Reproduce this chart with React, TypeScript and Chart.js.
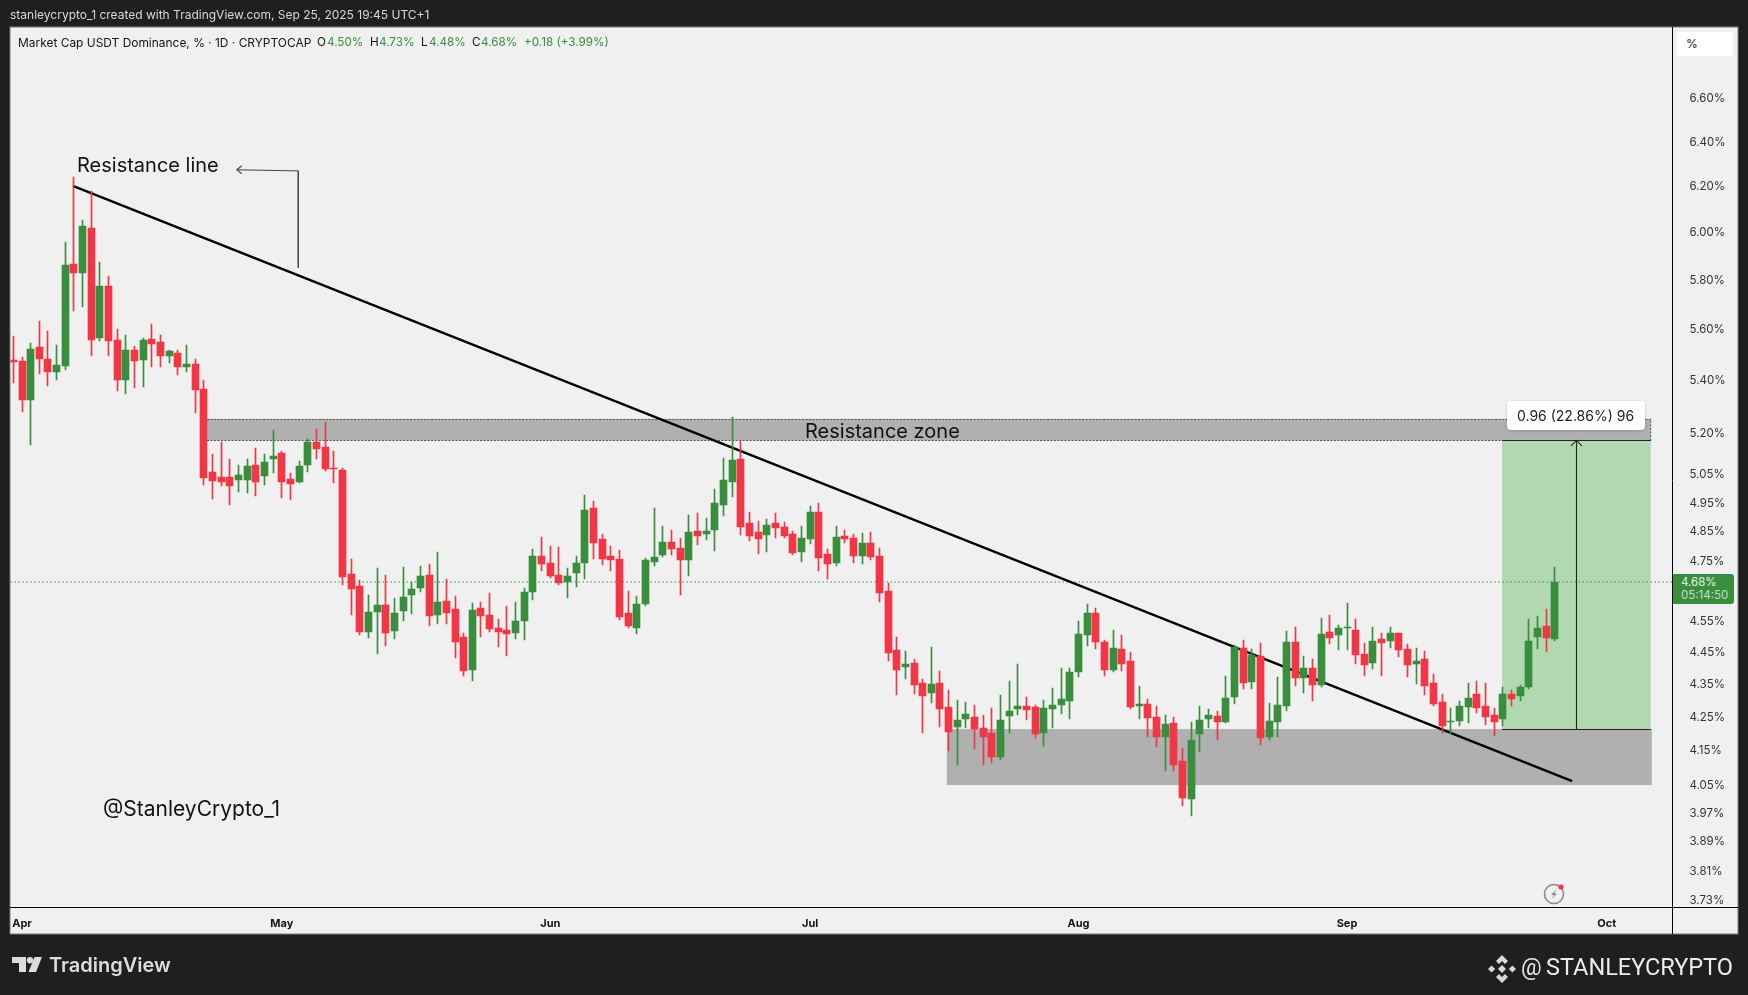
import React, { useEffect, useRef } from "react";
import { Chart, registerables } from "chart.js";

Chart.register(...registerables);

const opens = [
  5.481,5.477,5.327,5.532,5.485,5.434,5.457,5.869,5.832,6.021,
  5.568,5.778,5.560,5.404,5.520,5.481,5.564,5.552,5.497,5.508,
  5.454,5.465,5.369,5.061,5.043,5.043,5.032,5.032,5.086,5.047,
  5.108,5.130,5.036,5.025,5.086,5.170,5.152,5.076,5.068,4.707,
  4.667,4.517,4.581,4.604,4.520,4.584,4.637,4.660,4.704,4.571,
  4.617,4.591,4.501,4.396,4.594,4.571,4.529,4.523,4.513,4.552,
  4.647,4.768,4.744,4.704,4.680,4.710,4.744,4.933,4.825,4.768,
  4.757,4.578,4.529,4.607,4.747,4.771,4.815,4.795,4.754,4.853,
  4.842,4.856,4.944,5.025,5.108,4.881,4.849,4.839,4.881,4.867,
  4.842,4.781,4.825,4.919,4.774,4.744,4.836,4.829,4.768,4.812,
  4.768,4.650,4.459,4.405,4.418,4.356,4.325,4.356,4.282,4.221,
  4.246,4.252,4.218,4.203,4.132,4.255,4.276,4.285,4.282,4.203,
  4.276,4.288,4.300,4.390,4.507,4.578,4.485,4.396,4.462,4.424,
  4.285,4.291,4.252,4.191,4.233,4.120,4.010,4.200,4.246,4.255,
  4.236,4.312,4.465,4.359,4.440,4.191,4.236,4.285,4.485,4.371,
  4.402,4.349,4.517,4.507,4.529,4.523,4.446,4.418,4.494,4.488,
  4.513,4.462,4.415,4.431,4.356,4.297,4.236,4.239,4.282,4.322,
  4.285,4.258,4.246,4.322,4.316,4.343,4.501,4.536,4.494,
];
const highs = [
  5.576,5.493,5.548,5.636,5.596,5.540,5.962,6.244,6.056,6.182,
  5.877,5.819,5.604,5.580,5.536,5.568,5.624,5.580,5.520,5.520,
  5.540,5.485,5.404,5.126,5.170,5.108,5.086,5.108,5.148,5.126,
  5.215,5.137,5.057,5.101,5.181,5.218,5.244,5.137,5.076,4.757,
  4.687,4.637,4.727,4.704,4.627,4.730,4.680,4.734,4.740,4.781,
  4.690,4.633,4.513,4.610,4.614,4.643,4.558,4.601,4.614,4.660,
  4.791,4.832,4.801,4.798,4.727,4.768,4.979,4.958,4.842,4.801,
  4.788,4.650,4.633,4.761,4.933,4.870,4.856,4.829,4.909,4.916,
  4.898,5.000,5.111,5.263,5.174,4.919,4.888,4.895,4.916,4.884,
  4.853,4.870,4.940,4.951,4.791,4.870,4.856,4.842,4.846,4.849,
  4.795,4.677,4.501,4.456,4.431,4.368,4.469,4.393,4.334,4.303,
  4.297,4.288,4.258,4.279,4.319,4.362,4.415,4.312,4.288,4.303,
  4.340,4.402,4.402,4.552,4.607,4.594,4.491,4.523,4.507,4.453,
  4.346,4.306,4.285,4.258,4.252,4.158,4.236,4.285,4.276,4.270,
  4.377,4.475,4.491,4.462,4.481,4.294,4.374,4.520,4.533,4.440,
  4.431,4.562,4.571,4.539,4.610,4.558,4.481,4.533,4.513,4.533,
  4.513,4.478,4.465,4.456,4.384,4.322,4.279,4.300,4.356,4.362,
  4.356,4.279,4.343,4.334,4.349,4.558,4.568,4.591,4.730,
];
const lows = [
  5.392,5.282,5.159,5.427,5.381,5.404,5.442,5.676,5.692,5.497,
  5.556,5.497,5.361,5.350,5.373,5.377,5.454,5.454,5.469,5.423,
  5.434,5.278,5.014,4.965,5.011,4.944,4.989,4.986,4.975,5.014,
  5.057,4.968,4.961,5.022,5.061,5.108,5.065,5.022,4.670,4.571,
  4.507,4.497,4.446,4.472,4.494,4.552,4.575,4.647,4.536,4.542,
  4.542,4.434,4.377,4.362,4.501,4.517,4.469,4.440,4.494,4.491,
  4.620,4.717,4.693,4.670,4.627,4.663,4.690,4.757,4.737,4.717,
  4.555,4.529,4.510,4.601,4.734,4.764,4.771,4.637,4.700,4.805,
  4.822,4.785,4.905,4.972,4.839,4.818,4.774,4.781,4.829,4.829,
  4.771,4.747,4.808,4.717,4.690,4.734,4.812,4.744,4.740,4.754,
  4.614,4.424,4.319,4.368,4.322,4.203,4.294,4.221,4.150,4.108,
  4.218,4.155,4.108,4.114,4.123,4.203,4.258,4.242,4.188,4.164,
  4.218,4.261,4.246,4.374,4.472,4.462,4.377,4.390,4.393,4.276,
  4.246,4.191,4.161,4.091,4.091,3.991,3.962,4.147,4.218,4.182,
  4.233,4.291,4.337,4.337,4.167,4.182,4.191,4.270,4.346,4.325,
  4.300,4.343,4.478,4.459,4.459,4.415,4.377,4.399,4.377,4.465,
  4.437,4.374,4.352,4.319,4.285,4.203,4.200,4.224,4.233,4.264,
  4.227,4.194,4.224,4.285,4.300,4.337,4.462,4.453,4.488,
];
const closes = [
  5.473,5.327,5.524,5.485,5.434,5.461,5.865,5.832,6.030,5.560,
  5.778,5.556,5.404,5.520,5.477,5.560,5.544,5.497,5.516,5.454,
  5.465,5.365,5.039,5.029,5.025,5.011,5.050,5.083,5.025,5.097,
  5.119,5.025,5.018,5.083,5.170,5.145,5.072,5.072,4.697,4.657,
  4.517,4.581,4.604,4.513,4.578,4.630,4.657,4.700,4.568,4.614,
  4.578,4.485,4.393,4.588,4.568,4.526,4.517,4.510,4.552,4.647,
  4.768,4.740,4.700,4.677,4.700,4.744,4.926,4.812,4.757,4.754,
  4.565,4.536,4.607,4.754,4.764,4.815,4.791,4.754,4.849,4.836,
  4.853,4.951,5.032,5.105,4.867,4.836,4.825,4.874,4.863,4.836,
  4.778,4.829,4.919,4.761,4.740,4.832,4.825,4.768,4.812,4.764,
  4.643,4.450,4.396,4.415,4.349,4.316,4.352,4.276,4.206,4.242,
  4.261,4.215,4.191,4.132,4.242,4.270,4.285,4.273,4.200,4.279,
  4.288,4.306,4.390,4.510,4.578,4.485,4.396,4.465,4.415,4.282,
  4.291,4.249,4.191,4.230,4.108,4.013,4.182,4.242,4.258,4.236,
  4.309,4.469,4.356,4.443,4.188,4.239,4.288,4.485,4.371,4.402,
  4.349,4.510,4.497,4.529,4.533,4.443,4.412,4.488,4.481,4.513,
  4.459,4.412,4.424,4.346,4.291,4.224,4.239,4.285,4.309,4.279,
  4.252,4.236,4.322,4.306,4.343,4.488,4.529,4.497,4.680,
];

const monthIndex = [1, 31, 62, 92, 123, 154, 184];
const monthLabels = ["Apr", "May", "Jun", "Jul", "Aug", "Sep", "Oct"];
const priceTicks = [6.6, 6.4, 6.2, 6.0, 5.8, 5.6, 5.4, 5.2, 5.05, 4.95, 4.85, 4.75, 4.55, 4.45, 4.35, 4.25, 4.15, 4.05, 3.97, 3.89, 3.81, 3.73];

const xRange = [-0.33, 191.586];
const yRange = [3.7138, 6.946];
const trendX = [6.87, 180.0];
const trendY = [6.204, 4.062];
const resistanceZoneX = [22.37, 189.07];
const resistanceZoneY = [5.176, 5.256];
const supportZoneX = [107.8, 189.2];
const supportZoneY = [4.0505, 4.215];
const measureX = [171.9, 189.07];
const measureY = [4.215, 5.176];
const measureArrowX = 180.5;
const noteArrowX = [25.8, 32.9, 32.9];
const noteArrowY = [6.275, 6.27, 5.853];
const lastPrice = 4.68;

const UP = "#388e3c";
const DOWN = "#f23645";
const FONT = "Inter, 'Liberation Sans', sans-serif";

const overlayPlugin = {
  id: "overlay",
  beforeDraw(chart: any) {
    const c = chart.ctx;
    c.save();
    c.fillStyle = "#1f1f1f";
    c.fillRect(0, 0, chart.width, chart.height);
    c.fillStyle = "#f0f0f0";
    c.fillRect(10, 27, 1728, 907);
    c.strokeStyle = "#7a7a7a";
    c.lineWidth = 1;
    c.strokeRect(10, 27, 1728, 907);
    c.restore();
  },
  beforeDatasetsDraw(chart: any) {
    // the candles sit on whole device pixels, as they do on the original chart
    [0, 1].forEach((d) => {
      chart.getDatasetMeta(d).data.forEach((el: any) => {
        el.x = Math.floor(el.x) + 0.5;
        const top = Math.round(Math.min(el.y, el.base));
        const bottom = Math.max(Math.round(Math.max(el.y, el.base)), top + 1);
        el.y = top;
        el.base = bottom;
      });
    });
    const c = chart.ctx;
    const { x, y } = chart.scales;
    c.save();
    const rect = (xs: number[], ys: number[], col: string) => {
      c.fillStyle = col;
      c.fillRect(x.getPixelForValue(xs[0]), y.getPixelForValue(ys[1]), x.getPixelForValue(xs[1]) - x.getPixelForValue(xs[0]), y.getPixelForValue(ys[0]) - y.getPixelForValue(ys[1]));
    };
    rect(resistanceZoneX, resistanceZoneY, "#b0b0b0");
    rect(supportZoneX, supportZoneY, "#b0b0b0");
    rect(measureX, measureY, "#b2d8b2");
    c.strokeStyle = "#555";
    c.lineWidth = 1;
    c.setLineDash([2, 1.5]);
    const hl = (xs: number[], v: number) => {
      const py = Math.round(y.getPixelForValue(v)) + 0.5;
      c.beginPath();
      c.moveTo(x.getPixelForValue(xs[0]), py);
      c.lineTo(x.getPixelForValue(xs[1]), py);
      c.stroke();
    };
    hl(resistanceZoneX, resistanceZoneY[0]);
    hl(resistanceZoneX, resistanceZoneY[1]);
    const vx = x.getPixelForValue(resistanceZoneX[1]);
    c.beginPath();
    c.moveTo(vx, y.getPixelForValue(resistanceZoneY[0]));
    c.lineTo(vx, y.getPixelForValue(resistanceZoneY[1]));
    c.stroke();
    c.setLineDash([]);
    c.strokeStyle = "#222";
    hl(measureX, measureY[0]);
    hl(measureX, measureY[1]);
    c.restore();
  },
  afterDatasetsDraw(chart: any) {
    const c = chart.ctx;
    const { x, y } = chart.scales;
    c.save();
    c.strokeStyle = "#222";
    c.lineWidth = 1.1;
    const ax = x.getPixelForValue(measureArrowX);
    const ay = y.getPixelForValue(measureY[1]);
    c.beginPath();
    c.moveTo(ax - 5.5, ay + 5.5);
    c.lineTo(ax, ay);
    c.lineTo(ax + 5.5, ay + 5.5);
    c.stroke();
    c.strokeStyle = "#444";
    const nx = x.getPixelForValue(noteArrowX[0]);
    const ny = y.getPixelForValue(noteArrowY[0]);
    c.beginPath();
    c.moveTo(nx + 5, ny - 4);
    c.lineTo(nx, ny);
    c.lineTo(nx + 5, ny + 4);
    c.stroke();
    // axis rules
    c.strokeStyle = "#000";
    c.lineWidth = 1;
    c.beginPath();
    c.moveTo(10, 907.5);
    c.lineTo(1738, 907.5);
    c.moveTo(1672.5, 27);
    c.lineTo(1672.5, 934);
    c.stroke();
    c.restore();
  },
};

const txt = (s: React.CSSProperties): React.CSSProperties => ({ position: "absolute", whiteSpace: "nowrap", fontFamily: FONT, lineHeight: 1, ...s });

export default function App() {
  const ref = useRef<HTMLCanvasElement>(null);
  useEffect(() => {
    const idx = opens.map((_, i) => i);
    const colors = idx.map((i) => (closes[i] >= opens[i] ? UP : DOWN));
    const chart = new Chart(ref.current as HTMLCanvasElement, {
      type: "bar",
      data: {
        datasets: [
          {
            label: "Body",
            data: idx.map((i) => ({ x: i, y: [opens[i], closes[i]] })),
            backgroundColor: colors,
            barThickness: 7,
            grouped: false,
            order: 1,
          },
          {
            label: "Wick",
            data: idx.map((i) => ({ x: i, y: [lows[i], highs[i]] })),
            backgroundColor: colors,
            barThickness: 1,
            grouped: false,
            order: 2,
          },
          {
            type: "line",
            label: "Resistance line",
            data: trendX.map((v, i) => ({ x: v, y: trendY[i] })),
            borderColor: "#000",
            borderWidth: 2.4,
            pointRadius: 0,
            order: 3,
          },
          {
            type: "line",
            label: "Last price",
            data: xRange.map((v) => ({ x: v, y: lastPrice })),
            borderColor: UP,
            borderWidth: 1,
            borderDash: [1.5, 2.5],
            pointRadius: 0,
            order: 4,
          },
          {
            type: "line",
            label: "Range",
            data: measureY.map((v) => ({ x: measureArrowX, y: v })),
            borderColor: "#222",
            borderWidth: 1.1,
            pointRadius: 0,
            order: 5,
          },
          {
            type: "line",
            label: "Note",
            data: noteArrowX.map((v, i) => ({ x: v, y: noteArrowY[i] })),
            borderColor: "#444",
            borderWidth: 1,
            pointRadius: 0,
            order: 6,
          },
        ] as any,
      },
      options: {
        animation: false,
        responsive: false,
        devicePixelRatio: 1,
        layout: { padding: { left: 10.5, top: 27, right: 10, bottom: 61 } },
        plugins: { legend: { display: false }, tooltip: { enabled: false } },
        scales: {
          x: {
            type: "linear",
            offset: false,
            min: xRange[0],
            max: xRange[1],
            grid: { display: false, offset: false },
            border: { display: false },
            afterFit: (s: any) => { s.height = 27; },
            afterBuildTicks: (s: any) => { s.ticks = monthIndex.map((value) => ({ value })); },
            ticks: {
              autoSkip: false,
              maxRotation: 0,
              padding: 2,
              color: "#131313",
              font: { family: FONT, size: 11, weight: "bold" },
              callback: (v: any) => monthLabels[monthIndex.indexOf(v)],
            },
          },
          y: {
            type: "logarithmic",
            position: "right",
            min: yRange[0],
            max: yRange[1],
            grid: { display: false },
            border: { display: false },
            afterFit: (s: any) => { s.width = 65.5; },
            afterBuildTicks: (s: any) => { s.ticks = priceTicks.map((value) => ({ value })); },
            ticks: {
              autoSkip: false,
              padding: 9,
              color: "#333",
              font: { family: FONT, size: 11.5 },
              callback: (v: any) => Number(v).toFixed(2) + "%",
            },
          },
        },
      } as any,
      plugins: [overlayPlugin],
    });
    return () => chart.destroy();
  }, []);

  const green = { color: UP };
  const legend = { fontSize: 11.7, top: 37, color: "#131313" };
  return (
    <div style={{ position: "absolute", left: 0, top: 0, width: 1748, height: 995, overflow: "hidden", background: "#1f1f1f" }}>
      <canvas ref={ref} width={1748} height={995} style={{ display: "block", width: 1748, height: 995 }} />
      <div style={txt({ left: 10, top: 9, fontSize: 12, color: "#d9d9d9" })}>stanleycrypto_1 created with TradingView.com, Sep 25, 2025 19:45 UTC+1</div>

      <div style={txt({ ...legend, fontSize: 11.95, left: 18 })}>Market Cap USDT Dominance, % · 1D · CRYPTOCAP</div>
      <div style={txt({ ...legend, left: 317 })}>O</div>
      <div style={txt({ ...legend, ...green, left: 327 })}>4.50%</div>
      <div style={txt({ ...legend, left: 370 })}>H</div>
      <div style={txt({ ...legend, ...green, left: 379 })}>4.73%</div>
      <div style={txt({ ...legend, left: 421 })}>L</div>
      <div style={txt({ ...legend, ...green, left: 429 })}>4.48%</div>
      <div style={txt({ ...legend, left: 472 })}>C</div>
      <div style={txt({ ...legend, ...green, left: 481 })}>4.68%</div>
      <div style={txt({ ...legend, ...green, left: 524 })}>+0.18 (+3.99%)</div>

      <div style={txt({ left: 77, top: 155, fontSize: 20, color: "#111" })}>Resistance line</div>
      <div style={txt({ left: 805, top: 421, fontSize: 20, color: "#111" })}>Resistance zone</div>
      <div style={txt({ left: 103, top: 798, fontSize: 21, color: "#111" })}>@StanleyCrypto_1</div>

      <div style={{ position: "absolute", left: 1507, top: 401, width: 138, height: 29, background: "#fff", borderRadius: 4, boxShadow: "0 1px 3px rgba(0,0,0,0.2)" }} />
      <div style={txt({ left: 1517, top: 409, fontSize: 14, color: "#222" })}>0.96 (22.86%) 96</div>

      <div style={{ position: "absolute", left: 1677, top: 32, width: 56, height: 24, background: "#fff", borderRadius: 3 }} />
      <div style={txt({ left: 1686, top: 38, fontSize: 12, color: "#222" })}>%</div>

      <div style={{ position: "absolute", left: 1673, top: 574, width: 61, height: 30, background: UP, borderRadius: "0 3px 3px 0" }} />
      <div style={txt({ left: 1681, top: 577, fontSize: 11.5, color: "#e8f2e8" })}>4.68%</div>
      <div style={txt({ left: 1681, top: 590, fontSize: 11.5, color: "#c6dfc7" })}>05:14:50</div>

      <svg style={{ position: "absolute", left: 1543, top: 883 }} width={24} height={24} viewBox="0 0 24 24">
        <circle cx={11} cy={11} r={9.5} fill="#f0f0f0" stroke="#8a8a8a" strokeWidth={1.6} />
        <path d="M13.5 6 L8 12 H11 L8.5 16 L14 10.5 H11 Z" fill="#8a8a8a" />
        <circle cx={18} cy={4} r={2.6} fill={DOWN} />
      </svg>

      <svg style={{ position: "absolute", left: 12, top: 957 }} width={30} height={15} viewBox="0 0 30 15" fill="#dcdcdc">
        <path d="M0 0 H14 V15 H7 V6 H0 Z" />
        <circle cx={18} cy={3.2} r={3.2} />
        <path d="M22.5 0 H30 L24 15 H16.5 Z" />
      </svg>
      <div style={txt({ left: 49, top: 955, fontSize: 20, fontWeight: 600, color: "#dcdcdc", letterSpacing: 0 })}>TradingView</div>

      <svg style={{ position: "absolute", left: 1488, top: 955 }} width={28} height={28} viewBox="0 0 28 28" fill="#d8d8d8">
        <path d="M14 0 L20 6 L17 9 L14 6 L11 9 L8 6 Z" />
        <path d="M14 28 L8 22 L11 19 L14 22 L17 19 L20 22 Z" />
        <path d="M14 10 L18 14 L14 18 L10 14 Z" />
        <path d="M3.6 10.4 L7.2 14 L3.6 17.6 L0 14 Z" />
        <path d="M24.4 10.4 L28 14 L24.4 17.6 L20.8 14 Z" />
      </svg>
      <div style={txt({ left: 1521, top: 956, fontSize: 23, color: "#e6e6e6", fontFamily: "Roboto" })}>@</div>
      <div style={txt({ left: 1546, top: 956, fontSize: 23.5, color: "#ececec", fontFamily: "Roboto" })}>STANLEYCRYPTO</div>
    </div>
  );
}
